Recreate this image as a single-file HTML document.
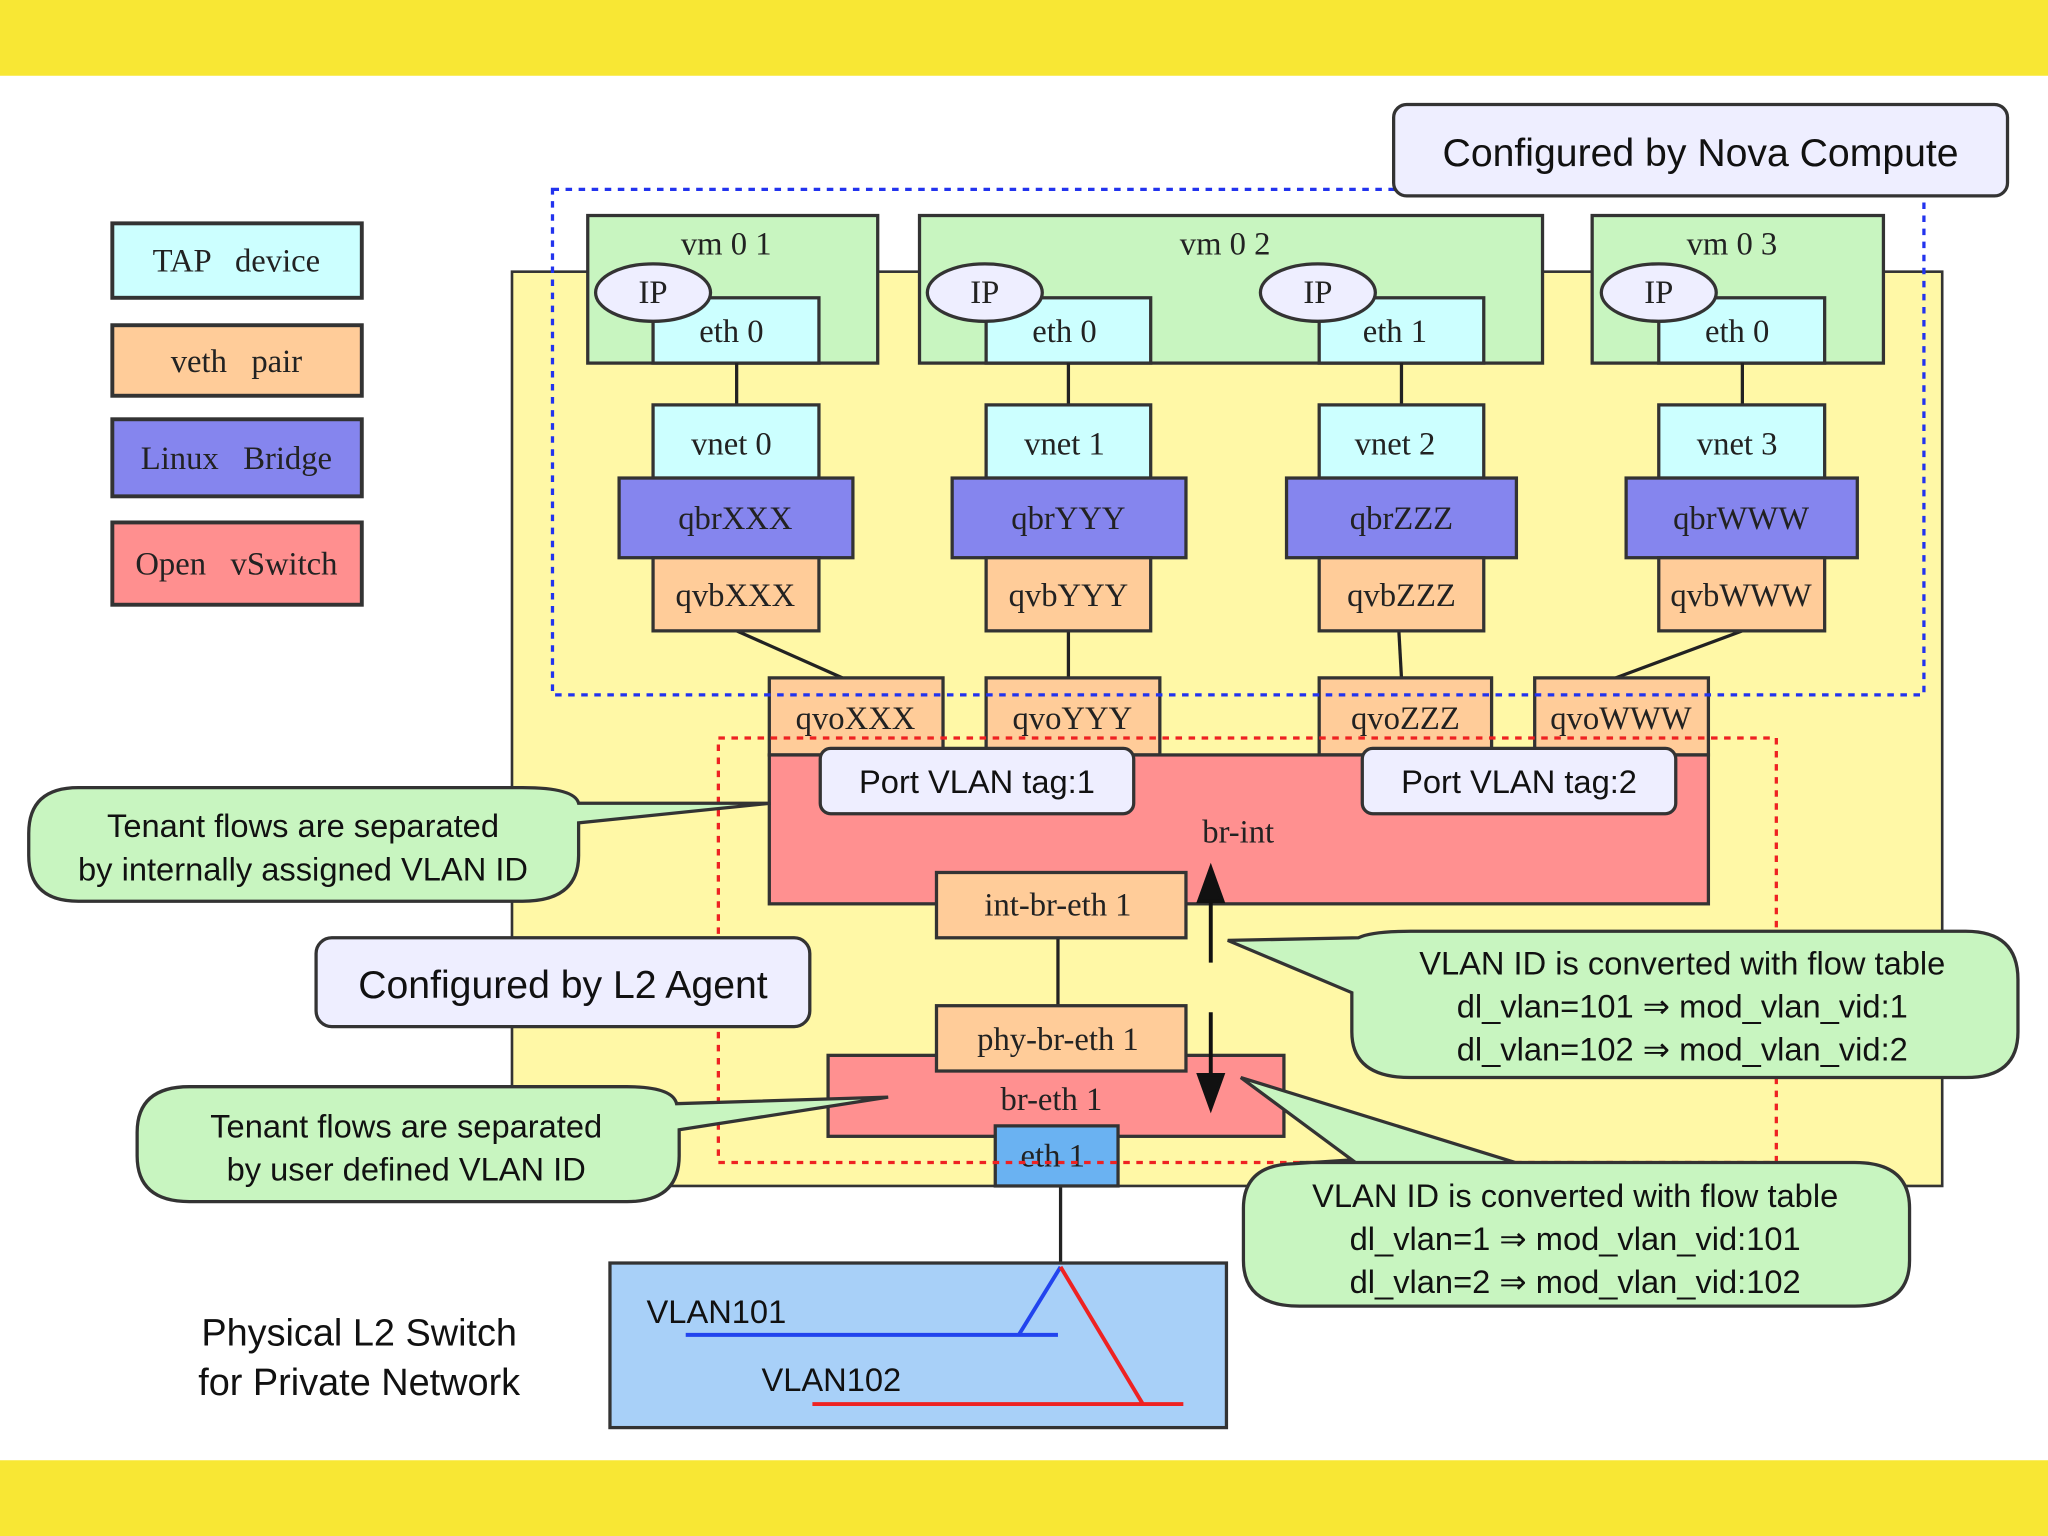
<!DOCTYPE html>
<html><head><meta charset="utf-8"><style>
html,body{margin:0;padding:0;background:#fff}
svg{display:block}
.s{font-family:"Liberation Serif",serif;font-size:25px;fill:#222}
.a{font-family:"Liberation Sans",sans-serif;fill:#111}
</style></head><body>
<svg width="2048" height="1536" viewBox="0 0 1568 1176" xmlns="http://www.w3.org/2000/svg">
<rect width="1568" height="1176" fill="#fff"/>
<rect width="1568" height="58" fill="#f8e734"/>
<rect y="1118" width="1568" height="58" fill="#f8e734"/>
<!-- big yellow region -->
<rect x="392" y="208" width="1095" height="700" fill="#fff8a6" stroke="#333" stroke-width="2"/>
<!-- legend -->
<g stroke="#333" stroke-width="3">
<rect x="86" y="171" width="191" height="57" fill="#ccffff"/>
<rect x="86" y="249" width="191" height="54" fill="#ffcc99"/>
<rect x="86" y="321" width="191" height="59" fill="#8585ee"/>
<rect x="86" y="400" width="191" height="63" fill="#ff8f8f"/>
</g>
<text class="s" x="181" y="208" text-anchor="middle" xml:space="preserve">TAP   device</text>
<text class="s" x="181" y="285" text-anchor="middle" xml:space="preserve">veth   pair</text>
<text class="s" x="181" y="359" text-anchor="middle" xml:space="preserve">Linux   Bridge</text>
<text class="s" x="181" y="440" text-anchor="middle" xml:space="preserve">Open   vSwitch</text>
<!-- VMs -->
<g stroke="#333" stroke-width="2.5" fill="#c8f5c0">
<rect x="450" y="165" width="222" height="113"/>
<rect x="704" y="165" width="477" height="113"/>
<rect x="1219" y="165" width="223" height="113"/>
</g>
<text class="s" x="556" y="195" text-anchor="middle">vm 0 1</text>
<text class="s" x="938" y="195" text-anchor="middle">vm 0 2</text>
<text class="s" x="1326" y="195" text-anchor="middle">vm 0 3</text>
<g stroke="#333" stroke-width="2.5" fill="#ccffff">
<rect x="500" y="228" width="127" height="50"/>
<rect x="755" y="228" width="126" height="50"/>
<rect x="1010" y="228" width="126" height="50"/>
<rect x="1270" y="228" width="127" height="50"/>
</g>
<g stroke="#333" stroke-width="2.5" fill="#eeeeff">
<ellipse cx="500" cy="224" rx="44" ry="22"/>
<ellipse cx="754" cy="224" rx="44" ry="22"/>
<ellipse cx="1009" cy="224" rx="44" ry="22"/>
<ellipse cx="1270" cy="224" rx="44" ry="22"/>
</g>
<text class="s" x="500" y="232" text-anchor="middle">IP</text>
<text class="s" x="754" y="232" text-anchor="middle">IP</text>
<text class="s" x="1009" y="232" text-anchor="middle">IP</text>
<text class="s" x="1270" y="232" text-anchor="middle">IP</text>
<text class="s" x="560" y="262" text-anchor="middle">eth 0</text>
<text class="s" x="815" y="262" text-anchor="middle">eth 0</text>
<text class="s" x="1068" y="262" text-anchor="middle">eth 1</text>
<text class="s" x="1330" y="262" text-anchor="middle">eth 0</text>
<!-- connecting lines -->
<g stroke="#222" stroke-width="2.5">
<line x1="564" y1="278" x2="564" y2="310"/><line x1="818" y1="278" x2="818" y2="310"/>
<line x1="1073" y1="278" x2="1073" y2="310"/><line x1="1334" y1="278" x2="1334" y2="310"/>
<line x1="564" y1="483" x2="645" y2="519"/><line x1="818" y1="483" x2="818" y2="519"/>
<line x1="1071" y1="483" x2="1073" y2="519"/><line x1="1334" y1="483" x2="1237" y2="519"/>
<line x1="810" y1="718" x2="810" y2="770"/><line x1="812" y1="908" x2="812" y2="968"/>
</g>
<!-- vnet -->
<g stroke="#333" stroke-width="2.5" fill="#ccffff">
<rect x="500" y="310" width="127" height="56"/><rect x="755" y="310" width="126" height="56"/>
<rect x="1010" y="310" width="126" height="56"/><rect x="1270" y="310" width="127" height="56"/>
</g>
<text class="s" x="560" y="348" text-anchor="middle">vnet 0</text>
<text class="s" x="815" y="348" text-anchor="middle">vnet 1</text>
<text class="s" x="1068" y="348" text-anchor="middle">vnet 2</text>
<text class="s" x="1330" y="348" text-anchor="middle">vnet 3</text>
<!-- qbr -->
<g stroke="#333" stroke-width="2.5" fill="#8585ee">
<rect x="474" y="366" width="179" height="61"/><rect x="729" y="366" width="179" height="61"/>
<rect x="985" y="366" width="176" height="61"/><rect x="1245" y="366" width="177" height="61"/>
</g>
<text class="s" x="563" y="405" text-anchor="middle">qbrXXX</text>
<text class="s" x="818" y="405" text-anchor="middle">qbrYYY</text>
<text class="s" x="1073" y="405" text-anchor="middle">qbrZZZ</text>
<text class="s" x="1333" y="405" text-anchor="middle">qbrWWW</text>
<!-- qvb -->
<g stroke="#333" stroke-width="2.5" fill="#ffcc99">
<rect x="500" y="427" width="127" height="56"/><rect x="755" y="427" width="126" height="56"/>
<rect x="1010" y="427" width="126" height="56"/><rect x="1270" y="427" width="127" height="56"/>
<rect x="589" y="519" width="133" height="59"/><rect x="755" y="519" width="133" height="59"/>
<rect x="1010" y="519" width="132" height="59"/><rect x="1175" y="519" width="133" height="59"/>
</g>
<text class="s" x="563" y="464" text-anchor="middle">qvbXXX</text>
<text class="s" x="818" y="464" text-anchor="middle">qvbYYY</text>
<text class="s" x="1073" y="464" text-anchor="middle">qvbZZZ</text>
<text class="s" x="1333" y="464" text-anchor="middle">qvbWWW</text>
<text class="s" x="655" y="558" text-anchor="middle">qvoXXX</text>
<text class="s" x="821" y="558" text-anchor="middle">qvoYYY</text>
<text class="s" x="1076" y="558" text-anchor="middle">qvoZZZ</text>
<text class="s" x="1241" y="558" text-anchor="middle">qvoWWW</text>
<!-- br-int -->
<rect x="589" y="578" width="719" height="114" fill="#ff9090" stroke="#333" stroke-width="2.5"/>
<text class="s" x="948" y="645" text-anchor="middle">br-int</text>
<g stroke="#333" stroke-width="2.5" fill="#eeeeff">
<rect x="628" y="573" width="240" height="50" rx="8"/>
<rect x="1043" y="573" width="240" height="50" rx="8"/>
</g>
<text class="a" x="748" y="607" font-size="25" text-anchor="middle">Port VLAN tag:1</text>
<text class="a" x="1163" y="607" font-size="25" text-anchor="middle">Port VLAN tag:2</text>
<rect x="717" y="668" width="191" height="50" fill="#ffcc99" stroke="#333" stroke-width="2.5"/>
<text class="s" x="810" y="701" text-anchor="middle">int-br-eth 1</text>
<rect x="634" y="808" width="349" height="62" fill="#ff9090" stroke="#333" stroke-width="2.5"/>
<rect x="717" y="770" width="191" height="50" fill="#ffcc99" stroke="#333" stroke-width="2.5"/>
<text class="s" x="810" y="804" text-anchor="middle">phy-br-eth 1</text>
<text class="s" x="805" y="850" text-anchor="middle">br-eth 1</text>
<rect x="762" y="862" width="94" height="46" fill="#6ab2f2" stroke="#333" stroke-width="2.5"/>
<text class="s" x="806" y="893" text-anchor="middle">eth 1</text>
<!-- dashed boxes -->
<rect x="423" y="145" width="1050" height="387" fill="none" stroke="#2233ee" stroke-width="2.5" stroke-dasharray="5,5"/>
<rect x="550" y="565" width="810" height="325" fill="none" stroke="#ee2222" stroke-width="2.5" stroke-dasharray="5,5"/>
<!-- Nova -->
<rect x="1067" y="80" width="470" height="70" rx="10" fill="#eeeeff" stroke="#333" stroke-width="2.5"/>
<text class="a" x="1302" y="127" font-size="30" text-anchor="middle">Configured by Nova Compute</text>
<!-- arrows -->
<g stroke="#111" stroke-width="3" fill="#111">
<line x1="927" y1="737" x2="927" y2="685"/><polygon points="927,665 918,690 936,690"/>
<line x1="927" y1="775" x2="927" y2="828"/><polygon points="927,848 918,823 936,823"/>
</g>
<!-- physical switch -->
<rect x="467" y="967" width="472" height="126" fill="#a8d0f8" stroke="#333" stroke-width="2.5"/>
<text class="a" x="495" y="1013" font-size="25">VLAN101</text>
<text class="a" x="583" y="1065" font-size="25">VLAN102</text>
<g stroke-width="3" fill="none">
<polyline points="525,1022 810,1022" stroke="#2244ee"/>
<polyline points="780,1022 812,970" stroke="#2244ee"/>
<polyline points="812,970 875,1075" stroke="#ee2222"/>
<polyline points="622,1075 906,1075" stroke="#ee2222"/>
</g>
<text class="a" x="275" y="1030" font-size="29" text-anchor="middle">Physical L2 Switch</text>
<text class="a" x="275" y="1068" font-size="29" text-anchor="middle">for Private Network</text>
<!-- callouts -->
<g fill="#c8f5c0" stroke="#333" stroke-width="2.5">
<path d="M60,603 H400 Q440,603 443,615 L590,615 L443,630 V655 Q443,690 400,690 H60 Q22,690 22,655 V638 Q22,603 60,603 Z"/>
<path d="M145,832 H480 Q515,832 518,845 L680,840 L520,865 V885 Q520,920 480,920 H145 Q105,920 105,885 V867 Q105,832 145,832 Z"/>
<path d="M1080,713 H1505 Q1545,713 1545,750 V790 Q1545,825 1505,825 H1080 Q1035,825 1035,790 V760 L940,720 L1040,718 Q1050,713 1080,713 Z"/>
<path d="M995,890 H1420 Q1462,890 1462,925 V965 Q1462,1000 1420,1000 H995 Q952,1000 952,965 V925 Q952,892 990,891 L1035,888 L950,825 L1160,890 Z"/>
</g>
<rect x="242" y="718" width="378" height="68" rx="12" fill="#eeeeff" stroke="#333" stroke-width="2.5"/>
<text class="a" x="431" y="764" font-size="30" text-anchor="middle">Configured by L2 Agent</text>
<g class="a" font-size="25" text-anchor="middle">
<text x="232" y="641">Tenant flows are separated</text>
<text x="232" y="674">by internally assigned VLAN ID</text>
<text x="311" y="871">Tenant flows are separated</text>
<text x="311" y="904">by user defined VLAN ID</text>
<text x="1288" y="746">VLAN ID is converted with flow table</text>
<text x="1288" y="779">dl_vlan=101 ⇒ mod_vlan_vid:1</text>
<text x="1288" y="812">dl_vlan=102 ⇒ mod_vlan_vid:2</text>
<text x="1206" y="924">VLAN ID is converted with flow table</text>
<text x="1206" y="957">dl_vlan=1 ⇒ mod_vlan_vid:101</text>
<text x="1206" y="990">dl_vlan=2 ⇒ mod_vlan_vid:102</text>
</g>
</svg>
</body></html>
